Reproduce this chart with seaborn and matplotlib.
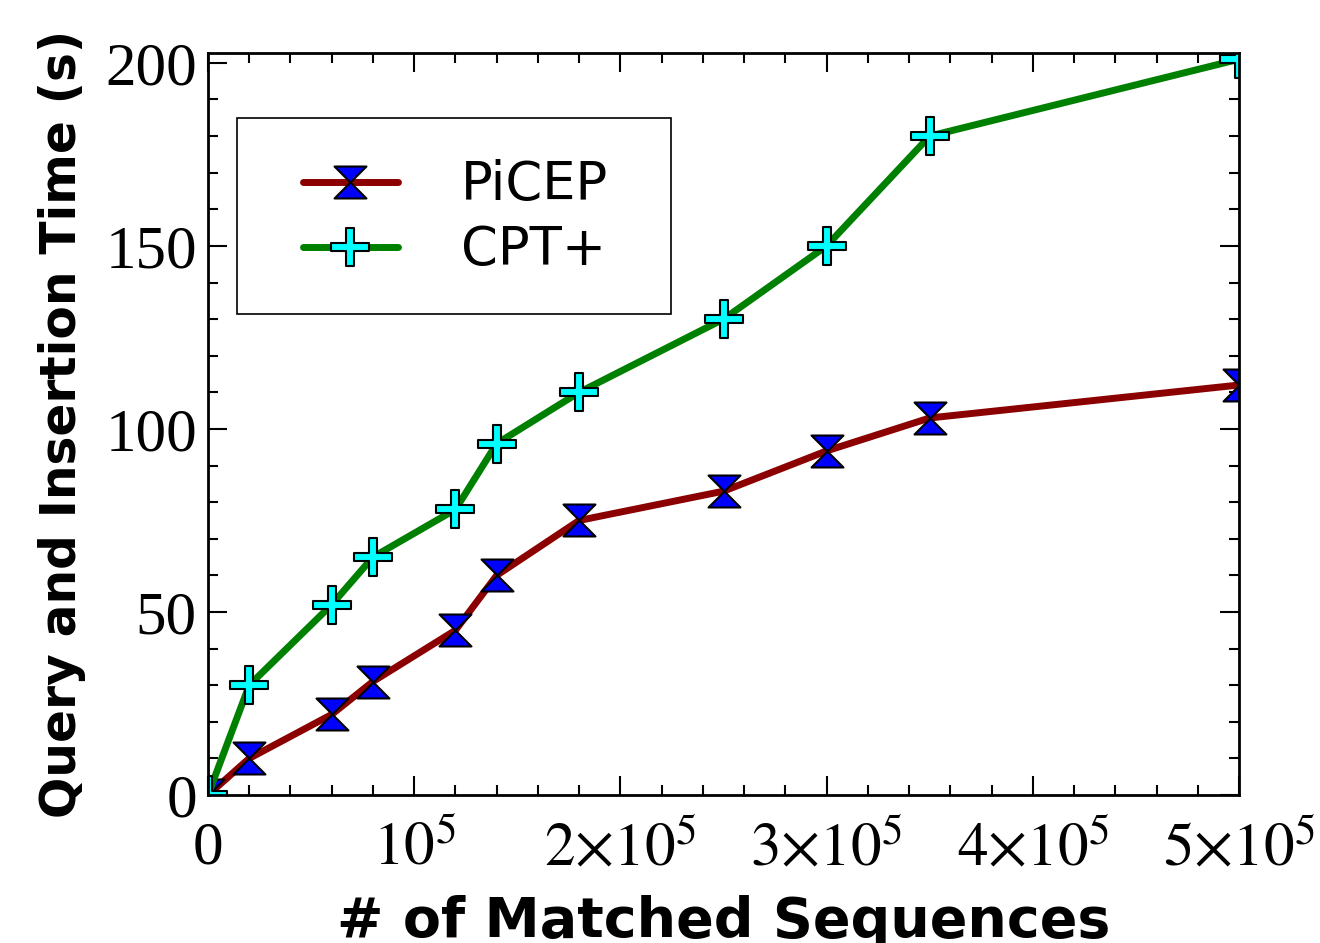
import numpy as np
import pandas as pd
import matplotlib
matplotlib.use("Agg")
import matplotlib.pyplot as plt
from matplotlib.path import Path
from matplotlib.patches import Rectangle
from matplotlib.ticker import MultipleLocator, FixedLocator, FixedFormatter
import seaborn as sns

# data
matched = [0, 2e4, 6e4, 8e4, 1.2e5, 1.4e5, 1.8e5, 2.5e5, 3e5, 3.5e5, 5e5]
picep = [0, 10, 22, 31, 45, 60, 75, 83, 94, 103, 112]
cpt_plus = [0, 30, 52, 65, 78, 96, 110, 130, 150, 180, 201]
xtick_vals = [0, 1e5, 2e5, 3e5, 4e5, 5e5]
xtick_labels = ["0", r"$10^5$", r"$2{\times}10^5$", r"$3{\times}10^5$",
                r"$4{\times}10^5$", r"$5{\times}10^5$"]

df = pd.DataFrame({"x": matched, "PiCEP": picep, "CPT+": cpt_plus})

sns.set_style("ticks")
plt.rcParams["mathtext.fontset"] = "stix"
plt.rcParams["font.family"] = ["DejaVu Sans"]
for k in ["text.color", "axes.labelcolor", "xtick.color", "ytick.color", "axes.edgecolor"]:
    plt.rcParams[k] = "black"

# hourglass and thin plus markers
hourglass = Path([(-1, 1), (1, 1), (0, 0), (1, -1), (-1, -1), (0, 0), (-1, 1)],
                 [1, 2, 2, 2, 2, 2, 79])
w = 0.22
plus = Path([(-w, 1), (w, 1), (w, w), (1, w), (1, -w), (w, -w), (w, -1),
             (-w, -1), (-w, -w), (-1, -w), (-1, w), (-w, w), (-w, 1)],
            [1] + [2] * 11 + [79])

fig = plt.figure(figsize=(13.2, 9.43), dpi=100)
ax = fig.add_axes([208 / 1320, 1 - 795 / 943, 1031 / 1320, 742 / 943])

sns.lineplot(data=df, x="x", y="PiCEP", ax=ax, color="#8b0000", lw=5,
             marker=hourglass, markersize=23, markerfacecolor="#0000ff",
             markeredgecolor="black", markeredgewidth=1.5, label="PiCEP")
sns.lineplot(data=df, x="x", y="CPT+", ax=ax, color="#008000", lw=5,
             marker=plus, markersize=27, markerfacecolor="#00ffff",
             markeredgecolor="black", markeredgewidth=1.5, label="CPT+")

ax.set_xlim(0, 5e5)
ax.set_ylim(0, 202.7)
ax.xaxis.set_major_locator(FixedLocator(xtick_vals))
ax.xaxis.set_major_formatter(FixedFormatter(xtick_labels))
ax.xaxis.set_minor_locator(MultipleLocator(2e4))
ax.yaxis.set_major_locator(MultipleLocator(50))
ax.yaxis.set_minor_locator(MultipleLocator(10))

ax.tick_params(which="both", direction="in", top=True, right=True, width=1.5)
ax.tick_params(which="major", length=14, labelsize=44)
ax.tick_params(axis="x", which="major", pad=19)
ax.tick_params(axis="y", which="major", pad=8)
ax.tick_params(which="minor", length=7)
for lab in ax.get_xticklabels() + ax.get_yticklabels():
    lab.set_family("Liberation Serif")
for s in ax.spines.values():
    s.set_linewidth(2)

ax.set_xlabel("# of Matched Sequences", fontsize=40, fontweight="bold", labelpad=12)
ax.set_ylabel("Query and Insertion Time (s)", fontsize=35, fontweight="bold", labelpad=14)

leg = ax.legend(loc="center left", bbox_to_anchor=(0.0921, 0.778), fontsize=38,
                frameon=False, borderpad=0, borderaxespad=0,
                handlelength=1.8, handletextpad=1.2, labelspacing=0.25)
ax.add_patch(Rectangle((0.0281, 0.648), 0.421, 0.264, transform=ax.transAxes,
                       facecolor="none", edgecolor="black", lw=1.2, zorder=5))

fig.savefig("out.png", dpi=100)
